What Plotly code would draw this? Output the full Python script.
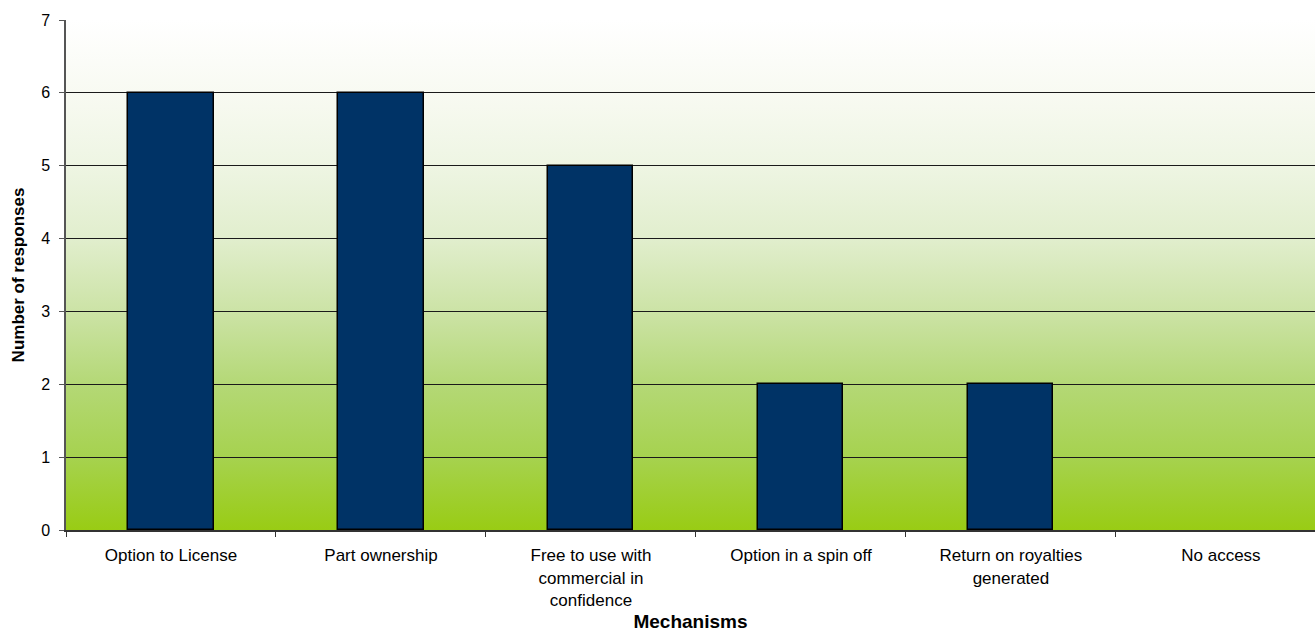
import base64
import plotly.graph_objects as go

# Survey results: mechanisms for access
mechanisms = [
    "Option to License",
    "Part ownership",
    "Free to use with<br>commercial in<br>confidence",
    "Option in a spin off",
    "Return on royalties<br>generated",
    "No access",
]
responses = [6, 6, 5, 2, 2, 0]
y_ticks = [0, 1, 2, 3, 4, 5, 6, 7]

# Vertical background gradient, white at the top to yellow-green at the bottom
grad_stops = [
    (0.000, "#FFFFFF"),
    (0.143, "#F8FAF2"),
    (0.286, "#EEF5E3"),
    (0.429, "#E1EECD"),
    (0.571, "#CCE3A6"),
    (0.714, "#B4D876"),
    (0.857, "#A6D24F"),
    (1.000, "#99CC14"),
]
stops_svg = "".join(
    f'<stop offset="{o}" stop-color="{c}"/>' for o, c in grad_stops
)
svg = (
    '<svg xmlns="http://www.w3.org/2000/svg" width="100" height="100" '
    'preserveAspectRatio="none">'
    '<defs><linearGradient id="g" x1="0" y1="0" x2="0" y2="1">'
    f"{stops_svg}</linearGradient></defs>"
    '<rect width="100" height="100" fill="url(#g)"/></svg>'
)
bg_src = "data:image/svg+xml;base64," + base64.b64encode(svg.encode()).decode()

# no outline on empty bars
outline_widths = [1.5 if v > 0 else 0 for v in responses]

fig = go.Figure()
fig.add_trace(
    go.Bar(
        x=mechanisms,
        y=responses,
        width=0.405,
        marker=dict(color="#003366", line=dict(color="#000000", width=outline_widths)),
        showlegend=False,
    )
)

fig.add_layout_image(
    dict(
        source=bg_src,
        xref="paper",
        yref="paper",
        x=0,
        y=1,
        sizex=1,
        sizey=1,
        sizing="stretch",
        xanchor="left",
        yanchor="top",
        layer="below",
    )
)

font_family = "Liberation Sans, Arial, sans-serif"
fig.update_layout(
    width=1315,
    height=632,
    margin=dict(l=66, r=0, t=20, b=102),
    paper_bgcolor="white",
    plot_bgcolor="rgba(0,0,0,0)",
    font=dict(family=font_family, size=16, color="black"),
    bargap=0,
    xaxis=dict(
        type="category",
        range=[-0.5, 5.448],
        tickson="boundaries",
        ticks="outside",
        ticklen=5,
        tickcolor="#333333",
        showline=True,
        linecolor="#333333",
        linewidth=2,
        showgrid=False,
        tickfont=dict(size=17),
        ticklabelstandoff=9,
        title=dict(
            text="<b>Mechanisms</b>",
            font=dict(size=19),
            standoff=9,
        ),
    ),
    yaxis=dict(
        range=[0, 7],
        tickvals=y_ticks,
        ticks="outside",
        ticklen=5,
        tickcolor="#555555",
        showline=True,
        linecolor="#555555",
        linewidth=1.5,
        showgrid=True,
        gridcolor="#1a1a1a",
        gridwidth=1,
        zeroline=False,
        tickfont=dict(size=16),
        ticklabelstandoff=6,
        title=dict(
            text="<b>Number of responses</b>",
            font=dict(size=17),
            standoff=12,
        ),
    ),
)

fig.write_html("out.html")
